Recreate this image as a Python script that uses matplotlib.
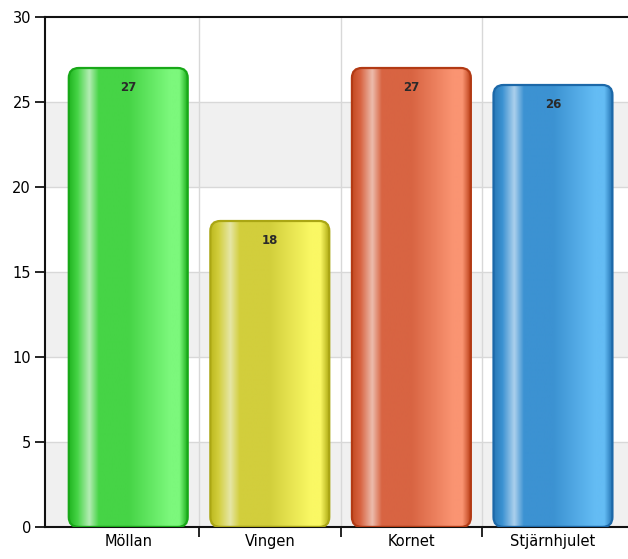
import numpy as np
import matplotlib
matplotlib.use("Agg")
import matplotlib.pyplot as plt
from matplotlib.patches import FancyBboxPatch
from matplotlib.colors import LinearSegmentedColormap

categories = ["Möllan", "Vingen", "Kornet", "Stjärnhjulet"]
values = [27, 18, 27, 26]
# gradient stops per bar: left edge, highlight, middle, right bright, right edge
bar_colors = [
    ["#22b622", "#b4ecb4", "#46d446", "#7cf87c", "#1cae1c"],
    ["#bcb81e", "#e6e6a6", "#d2ce3c", "#faf864", "#b4b018"],
    ["#c44a22", "#ecbcac", "#d86442", "#fa9472", "#bc4018"],
    ["#2a7ab8", "#acd0ec", "#3c92d2", "#64bcf4", "#2070b0"],
]
edge_colors = ["#18a818", "#aaa614", "#b23a14", "#1c68a8"]
yticks = [0, 5, 10, 15, 20, 25, 30]

W, H = 628, 559
fig = plt.figure(figsize=(W / 100, H / 100), dpi=100)
ax = fig.add_axes([45 / W, 32 / H, (W - 45) / W, 510 / H])

xmin, xmax = -0.588, 3.53
ax.set_xlim(xmin, xmax)
ax.set_ylim(0, 30)

# alternating background bands
for lo in range(0, 30, 10):
    ax.axhspan(lo, lo + 5, color="#f0f0f0", zorder=0, lw=0)
for y in yticks[1:-1]:
    ax.axhline(y, color="#d8d8d8", lw=1, zorder=0.5)
for xb in [0.5, 1.5, 2.5]:
    ax.axvline(xb, color="#d8d8d8", lw=1, zorder=0.5)

bw = 0.84
px_x = 141.5
px_y = 17.0
for i, (v, cols, ec) in enumerate(zip(values, bar_colors, edge_colors)):
    x0 = i - bw / 2
    patch = FancyBboxPatch((x0, 0), bw, v,
                           boxstyle="round,pad=0,rounding_size=%f" % (10 / px_x),
                           mutation_aspect=px_x / px_y,
                           facecolor="none", edgecolor=ec, lw=1.6, zorder=3)
    ax.add_patch(patch)
    cmap = LinearSegmentedColormap.from_list(
        "g%d" % i,
        [(0.0, cols[0]), (0.07, cols[2]), (0.17, cols[1]), (0.25, cols[2]),
         (0.5, cols[2]), (0.85, cols[3]), (0.93, cols[3]), (1.0, cols[4])])
    grad = np.linspace(0, 1, 256).reshape(1, -1)
    im = ax.imshow(grad, cmap=cmap, extent=[x0, x0 + bw, 0, v],
                   aspect="auto", zorder=2, interpolation="bilinear")
    im.set_clip_path(patch)
    ax.text(i, v - 1.15, str(v), ha="center", va="center", fontsize=8.5,
            fontweight="bold", color="#2a2a2a", zorder=4)

ax.set_xlim(xmin, xmax)
ax.set_ylim(0, 30)
ax.set_yticks(yticks)
ax.set_yticklabels([str(t) for t in yticks], fontsize=10.5)
ax.set_xticks([0.5, 1.5, 2.5])
ax.set_xticklabels([])
ax.set_xticks(range(len(categories)), minor=True)
ax.set_xticklabels(categories, minor=True, fontsize=10.5)
ax.tick_params(axis="x", which="minor", length=0, pad=5)
ax.tick_params(axis="x", which="major", length=7, direction="out", width=1.2)
ax.tick_params(axis="y", length=7, direction="out", width=1.2, pad=3)
for s in ["left", "bottom", "top"]:
    ax.spines[s].set_linewidth(1.5)
    ax.spines[s].set_color("#111111")
ax.spines["right"].set_visible(False)

fig.savefig("out.png", dpi=100)
